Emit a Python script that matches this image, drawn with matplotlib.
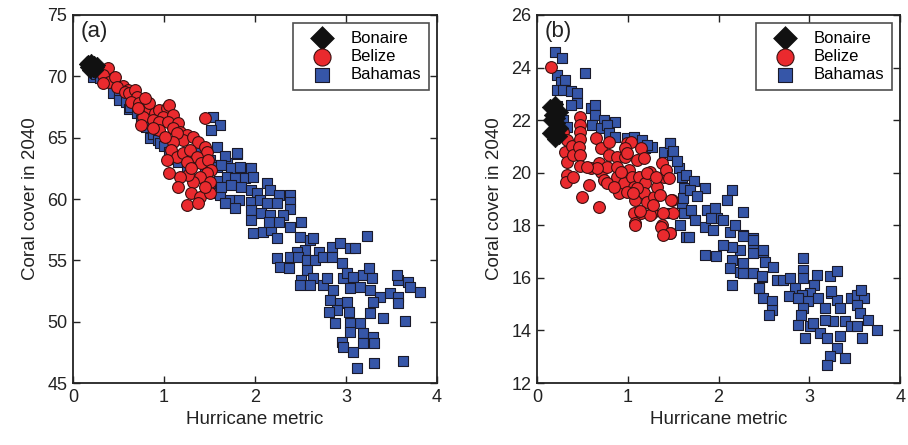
import matplotlib
matplotlib.use("Agg")
import matplotlib.pyplot as plt

plt.rcParams["font.family"] = ["Liberation Sans", "DejaVu Sans"]

# ---- panel (a): coral cover in 2040 vs hurricane metric ----
a_bonaire_x = [0.15, 0.17, 0.18, 0.20, 0.21, 0.22, 0.23, 0.25, 0.19, 0.24, 0.16, 0.26]
a_bonaire_y = [71.0, 71.1, 70.8, 71.2, 70.9, 70.6, 71.0, 70.8, 70.5, 70.5, 70.8, 70.9]

a_belize_x = [0.28, 0.35, 0.38, 0.45, 0.55, 0.60,
              0.33, 0.40, 0.46, 0.33, 0.48, 0.57, 0.62, 0.68, 0.70, 0.64, 0.73, 0.77,
              0.84, 0.90, 0.95, 1.03, 1.06, 0.99, 1.10, 0.77, 0.75, 0.88, 0.95, 1.04,
              1.15, 1.10, 1.17, 1.25, 1.21, 1.32, 1.37, 1.45, 1.47, 1.14, 1.10, 1.08,
              1.14, 1.21, 1.28, 1.36, 1.41, 1.48, 1.52, 1.47, 1.39, 1.32, 1.26, 1.17,
              1.06, 1.15, 1.30, 1.39, 1.50, 1.50, 1.45, 1.25, 1.37, 1.45, 1.03, 1.25,
              1.30, 0.95, 0.88, 1.01, 0.84, 0.79, 0.71]
a_belize_y = [70.6, 70.3, 70.7, 69.6, 69.2, 68.9,
              70.11, 69.57, 69.98, 69.43, 69.16, 68.75, 68.62, 68.89, 68.35, 67.94, 67.80, 67.26,
              67.39, 66.99, 67.26, 67.39, 67.67, 66.72, 66.85, 66.72, 66.04, 66.44, 66.31, 66.31,
              66.17, 65.76, 65.49, 65.22, 64.81, 65.08, 64.68, 64.27, 63.86, 65.36, 64.68, 64.00,
              63.45, 63.73, 64.00, 63.45, 62.91, 63.18, 62.37, 62.10, 61.82, 61.42, 61.96, 61.82,
              62.10, 61.01, 60.46, 60.19, 61.42, 60.46, 61.01, 59.51, 59.65, 66.58, 63.18, 63.05,
              62.50, 65.63, 65.76, 65.08, 67.80, 68.21, 67.39]

a_bahamas_x = [0.22, 0.25, 0.30, 0.37, 0.44, 0.50, 0.51, 0.58, 0.62, 0.63, 0.70, 0.75, 0.80,
               0.85, 0.88, 0.93, 0.96, 1.00, 1.05, 1.12, 1.15, 1.25,
               1.54, 1.61, 1.52, 1.58, 1.80, 1.69, 1.91, 1.45, 1.50, 1.55, 1.50, 1.40, 1.55,
               1.60, 1.62,
               1.67, 1.80, 1.58, 1.63, 1.74, 1.84, 1.95, 1.69, 1.78, 1.89, 1.98, 1.63, 1.74,
               1.85, 1.95, 2.02, 2.13, 2.16, 2.26, 2.38, 2.38, 2.38, 1.73, 1.82, 1.95, 2.05,
               2.13, 2.24, 1.67, 1.78, 1.96, 2.07, 2.16, 2.31, 1.95, 1.98, 2.09, 2.18, 2.24,
               2.15, 2.26, 2.38, 2.51, 2.49, 2.60, 2.64, 2.55, 2.70, 2.46, 2.38, 2.24, 2.27,
               2.37, 2.47, 2.57, 2.66, 2.75, 2.84, 2.93, 3.04, 3.10, 3.23, 2.84, 2.95, 2.57,
               2.64, 2.51, 2.49, 2.60, 2.75, 2.79, 2.86, 2.97, 3.01, 3.08, 3.19, 3.25, 3.28,
               3.04, 3.15, 3.26, 3.37, 3.48, 3.57, 3.57, 3.57, 3.56, 3.68, 3.70, 3.81, 2.82,
               2.93, 3.01, 2.90, 2.81, 3.03, 3.30, 3.26, 3.15, 3.04, 2.88, 3.41, 3.65, 2.95,
               2.97, 3.08, 3.19, 3.19, 3.30, 3.31, 3.04, 3.12, 3.31, 3.63]
a_bahamas_y = [69.97, 70.2, 69.9, 69.5, 68.62, 68.4, 68.08, 67.9, 67.3, 67.54, 67.0, 66.4, 65.9,
               64.97, 65.3, 64.8, 64.6, 64.3, 63.8, 63.3, 63.0, 62.6,
               66.7, 66.0, 65.6, 64.27, 63.7, 62.9, 62.5, 62.0, 61.0, 60.5, 63.2, 63.8, 62.8,
               61.5, 60.3,
               63.51, 63.73, 62.64, 62.78, 62.51, 62.64, 62.51, 61.83, 61.69, 61.69, 61.83, 61.01, 61.15,
               61.01, 60.74, 60.47, 61.28, 60.74, 60.33, 60.33, 59.79, 59.16, 59.92, 59.92, 59.79, 59.92,
               59.65, 59.65, 59.65, 59.24, 59.11, 58.84, 58.70, 58.70, 58.29, 57.21, 57.34, 57.48, 56.80,
               58.16, 58.16, 57.70, 58.16, 56.93, 56.66, 56.80, 55.85, 55.71, 55.71, 55.30, 55.17, 54.49,
               54.35, 55.30, 55.03, 55.03, 55.30, 56.12, 56.39, 55.98, 55.98, 56.99, 55.30, 54.76, 54.22,
               53.54, 53.40, 52.99, 52.99, 52.99, 53.54, 52.59, 53.54, 53.95, 53.67, 53.81, 54.35, 53.54,
               52.72, 52.86, 52.59, 52.04, 52.32, 52.04, 51.50, 53.40, 53.81, 53.27, 52.86, 52.45, 51.77,
               51.50, 51.64, 50.96, 50.82, 50.82, 51.64, 50.68, 49.87, 49.87, 49.87, 50.28, 50.09, 48.38,
               47.97, 47.56, 49.05, 48.24, 48.78, 48.29, 49.19, 46.20, 46.61, 46.80]

# ---- panel (b) ----
b_bonaire_x = [0.14, 0.20, 0.25, 0.15, 0.22, 0.18, 0.25, 0.14, 0.20, 0.24, 0.17, 0.22]
b_bonaire_y = [22.5, 22.6, 22.3, 22.0, 21.9, 21.6, 21.7, 21.5, 21.3, 21.4, 22.2, 22.1]

b_belize_x = [0.15, 0.29, 0.33, 0.31, 0.33, 0.33, 0.32, 0.39, 0.40, 0.40, 0.47, 0.47, 0.47,
              0.47, 0.46, 0.47, 0.47, 0.50, 0.57, 0.59, 0.65, 0.70, 0.68, 0.68, 0.70, 0.74,
              0.77, 0.79, 0.79, 0.88, 0.88, 0.88, 0.90, 0.96, 0.97, 0.99, 1.01, 1.05, 1.03,
              1.07, 1.08, 1.10, 1.12, 1.14, 1.18, 1.19, 1.18, 1.21, 1.07, 1.14, 1.25, 1.27,
              1.29, 1.32, 1.36, 1.38, 1.40, 1.42, 1.45, 1.49, 1.38, 1.40, 1.47, 1.08, 0.97,
              0.77, 0.85, 0.92, 0.99, 1.10, 1.21, 1.31, 0.66, 0.55,
              1.08, 1.25, 1.37, 1.46, 1.39, 1.50, 1.39, 1.28, 1.13, 1.48, 1.06, 0.99]
b_belize_y = [24.04, 21.56, 21.25, 20.80, 20.42, 19.92, 19.66, 21.00, 20.68, 19.85, 22.13, 21.82, 21.56,
              21.27, 20.99, 20.68, 20.26, 19.09, 19.54, 20.17, 21.31, 20.93, 18.71, 20.36, 20.04, 19.73,
              20.23, 21.18, 20.68, 20.61, 20.23, 19.85, 19.22, 19.60, 20.61, 21.12, 20.11, 19.85, 21.18,
              19.47, 18.97, 20.49, 19.85, 20.93, 20.55, 19.60, 19.22, 18.90, 18.46, 18.46, 20.04, 18.46,
              19.09, 19.47, 19.16, 20.36, 19.85, 20.11, 19.79, 18.97, 18.02, 17.70, 17.70, 18.08, 20.93,
              19.60, 19.47, 20.04, 19.28, 19.41, 19.98, 19.85, 20.17, 20.23,
              18.02, 18.40, 17.95, 17.70, 17.64, 18.46, 18.46, 18.78, 18.53, 18.97, 19.22, 20.74]

b_bahamas_x = [0.20, 0.28, 0.22, 0.26, 0.31, 0.22, 0.29, 0.37, 0.44, 0.53, 0.44, 0.37, 0.59,
               0.64, 0.64, 0.74, 0.86, 0.61, 0.70, 0.77, 0.79, 0.86, 0.99, 1.07, 1.16, 1.19,
               1.27, 1.47, 1.40, 1.49, 1.56, 1.60, 1.62, 1.60, 1.62, 1.49, 1.58, 1.64, 0.22,
               0.29, 0.33,
               1.47, 1.50, 1.21, 1.54, 1.64, 1.73, 1.85, 2.15, 2.09, 2.27, 1.61, 1.70, 1.74,
               1.67, 1.85, 1.94, 1.98, 1.87, 1.96, 2.05, 2.13, 2.18, 2.27, 2.38, 2.38, 2.24,
               2.15, 2.05, 1.85, 1.97, 2.15, 2.24, 2.13, 2.35, 2.49, 2.51, 2.60, 2.48, 2.64,
               2.71, 2.44, 2.15, 1.69, 1.76, 1.92,
               2.27, 2.38, 2.38, 2.49, 2.27, 2.27, 2.38, 2.48, 2.44, 2.49, 2.59, 2.59, 2.55,
               2.79, 2.84, 2.93, 2.93, 2.93, 3.08, 3.23, 3.30, 3.05, 3.01, 2.92, 2.99, 2.77,
               2.88, 2.93, 2.91, 3.10, 3.17, 3.24, 3.30, 3.24, 3.34, 2.88, 3.01, 3.12, 2.95,
               3.19, 3.34, 3.26, 3.17, 3.04, 3.39, 3.46, 3.52, 3.46, 3.52, 3.60, 3.52, 3.56,
               3.64, 3.75, 3.58, 3.30, 3.23, 3.19, 3.39, 3.57]
b_bahamas_y = [24.61, 24.35, 23.72, 23.47, 23.53, 23.15, 23.15, 23.09, 23.02, 23.78, 22.64, 22.58, 22.45,
               22.58, 22.20, 22.01, 21.94, 21.82, 21.69, 21.82, 21.50, 21.37, 21.31, 21.37, 21.25, 20.93,
               20.99, 21.12, 20.80, 20.68, 20.17, 19.85, 19.41, 18.84, 18.46, 18.46, 18.02, 17.57, 22.52,
               22.01, 21.75,
               21.12, 20.81, 21.06, 20.43, 19.92, 19.67, 19.41, 19.35, 18.97, 18.52, 19.03, 18.59, 18.21,
               17.57, 17.95, 17.83, 18.27, 18.59, 18.65, 18.21, 17.76, 18.02, 17.64, 17.51, 17.19, 17.07,
               17.19, 17.26, 16.88, 16.84, 16.69, 16.24, 16.37, 16.18, 17.00, 16.62, 16.43, 16.05, 15.93,
               15.93, 15.61, 15.74, 19.35, 19.10, 18.27,
               17.58, 17.45, 16.94, 17.07, 16.56, 16.18, 16.18, 16.06, 15.61, 15.23, 15.11, 14.79, 14.60,
               15.99, 15.61, 16.75, 16.31, 15.99, 16.12, 16.06, 16.25, 15.74, 15.42, 15.36, 15.11, 15.30,
               15.23, 14.85, 14.60, 15.23, 14.85, 15.42, 15.17, 15.49, 14.85, 14.22, 14.15, 13.90, 13.71,
               13.71, 13.77, 14.35, 14.41, 14.28, 14.35, 14.15, 14.15, 15.23, 15.36, 15.23, 14.98, 14.66,
               14.41, 14.00, 13.71, 13.33, 13.01, 12.70, 12.95, 15.55]

panels = [
    ("(a)", a_bonaire_x, a_bonaire_y, a_belize_x, a_belize_y, a_bahamas_x, a_bahamas_y,
     (45, 75), range(45, 76, 5), [0.0804, 0.1393, 0.401, 0.827]),
    ("(b)", b_bonaire_x, b_bonaire_y, b_belize_x, b_belize_y, b_bahamas_x, b_bahamas_y,
     (12, 26), range(12, 27, 2), [0.5914, 0.1393, 0.400, 0.827]),
]

blue = "#3656a8"
red = "#ea2a2e"

fig = plt.figure(figsize=(9.08, 4.45), dpi=100)

for tag, bon_x, bon_y, bel_x, bel_y, bah_x, bah_y, ylim, yticks, pos in panels:
    ax = fig.add_axes(pos)
    ax.scatter(bah_x, bah_y, marker="s", s=48, c=blue, edgecolors="#1a1a2a",
               linewidths=0.8, label="Bahamas", zorder=2)
    ax.scatter(bel_x, bel_y, marker="o", s=72, c=red, edgecolors="#3a1010",
               linewidths=0.8, label="Belize", zorder=3)
    ax.scatter(bon_x, bon_y, marker="D", s=70, c="#111111", edgecolors="#111111",
               linewidths=0.5, label="Bonaire", zorder=4)

    ax.set_xlim(0, 4)
    ax.set_ylim(*ylim)
    ax.set_xticks(range(0, 5))
    ax.set_yticks(list(yticks))
    ax.tick_params(direction="in", top=True, right=True, length=5, width=1,
                   labelsize=13, colors="#222222", pad=4)
    for sp in ax.spines.values():
        sp.set_linewidth(1.3)
        sp.set_color("#222222")
    ax.set_xlabel("Hurricane metric", fontsize=13.5, color="#222222", labelpad=4)
    ax.set_ylabel("Coral cover in 2040", fontsize=13.5, color="#222222", labelpad=6)
    ax.text(0.02, 0.985, tag, transform=ax.transAxes, fontsize=16, va="top",
            ha="left", color="#222222")

    handles, labels = ax.get_legend_handles_labels()
    order = [2, 1, 0]
    leg = ax.legend([handles[i] for i in order], [labels[i] for i in order],
                    loc="upper right", fontsize=12, frameon=True, fancybox=False,
                    edgecolor="#222222", borderpad=0.45, handletextpad=0.4,
                    handlelength=2.6, labelspacing=0.2, borderaxespad=0.5,
                    markerscale=1.45)
    leg.get_frame().set_linewidth(1.2)

fig.savefig("out.png", dpi=100)
